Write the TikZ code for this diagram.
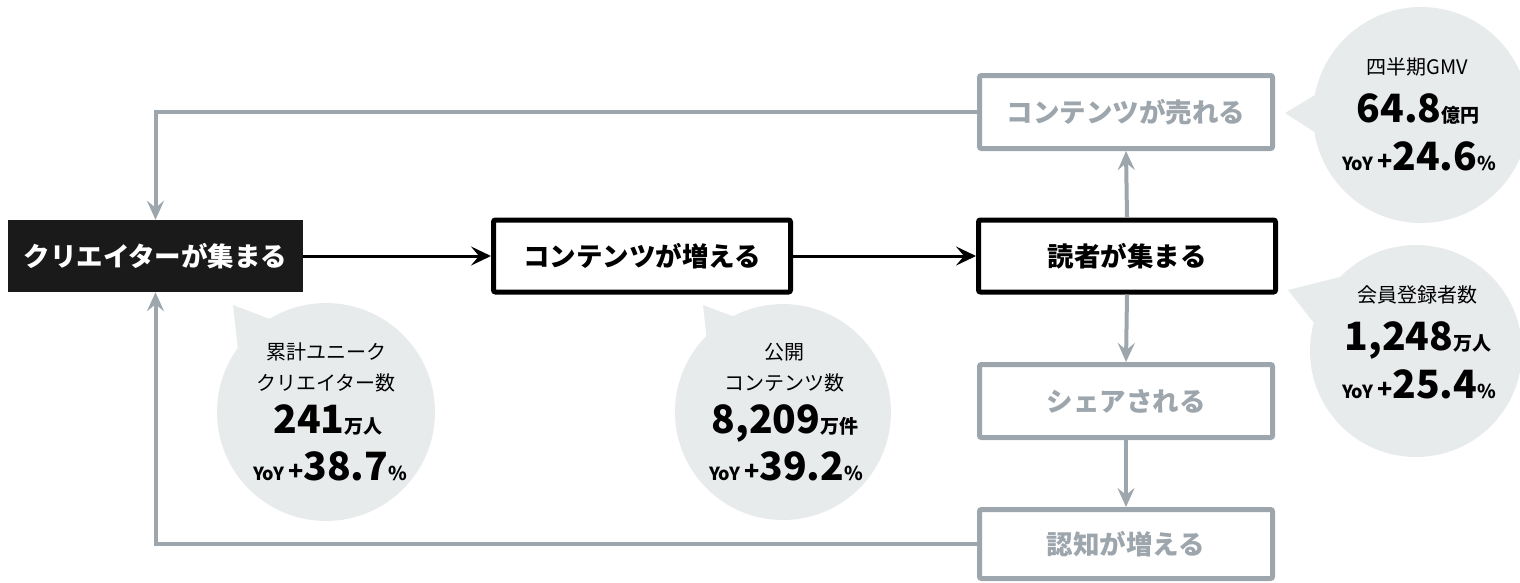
\documentclass[tikz,border=0pt]{standalone}
\usepackage{fontspec}
\setmainfont{Noto Sans CJK JP}
\usetikzlibrary{arrows.meta}
\definecolor{grayc}{HTML}{9DA6AC}
\definecolor{bubc}{HTML}{E8EBEC}
\definecolor{blkc}{HTML}{1A1A1A}
\newcommand\bublbl{\fontsize{20}{24}\selectfont\mdseries}
\newcommand\bubnum{\fontsize{39}{40}\selectfont\bfseries}
\newcommand\bubunit{\fontsize{19}{20}\selectfont\bfseries}
\newcommand\bubyoy{\fontsize{18}{20}\selectfont\bfseries}
\newcommand\bubplus{\fontsize{25}{24}\selectfont\bfseries}
\tikzset{
  boxtext/.style={font=\fontsize{26.5}{30}\selectfont\bfseries, inner sep=0pt, align=center},
  darkbox/.style={boxtext, fill=blkc, text=white, minimum width=295pt, minimum height=72pt},
  blackbox/.style={boxtext, draw=black, line width=5pt, rounded corners=2pt, fill=white, text=black, minimum width=297pt, minimum height=72pt},
  graybox/.style={boxtext, draw=grayc, line width=5pt, rounded corners=2pt, fill=white, text=grayc, minimum width=293pt, minimum height=73pt},
  blackarrow/.style={draw=black, line width=3pt, -{Stealth[length=20pt,width=19pt,inset=8pt]}},
  grayarrow/.style={draw=grayc, line width=4pt, -{Stealth[length=19pt,width=17pt,inset=7pt]}},
  bubble/.style={fill=bubc, draw=none},
  bubtxt/.style={anchor=base, inner sep=0pt},
}
\begin{document}
\begin{tikzpicture}[x=1pt,y=-1pt]
\useasboundingbox (0,0) rectangle (1520,582);

% bubbles
\fill[bubble] (326,412) circle (109);
\fill[bubble] (233,305) -- (240,368) -- (291,327) -- cycle;
\fill[bubble] (783,412) circle (108);
\fill[bubble] (703,305) -- (710,368) -- (761,327) -- cycle;
\fill[bubble] (1421,115) circle (108);
\fill[bubble] (1285,113) -- (1330,86) -- (1330,142) -- cycle;
\fill[bubble] (1416,351) circle (106);
\fill[bubble] (1288,290) -- (1352,274) -- (1325,337) -- cycle;

% boxes
\node[darkbox] (creator) at (155.5,256) {クリエイターが集まる};
\node[blackbox] (content) at (642,256) {コンテンツが増える};
\node[blackbox] (reader) at (1127,256) {読者が集まる};
\node[graybox] (sold) at (1126,112) {コンテンツが売れる};
\node[graybox] (share) at (1126,401) {シェアされる};
\node[graybox, minimum height=69pt] (aware) at (1126,544) {認知が増える};

% connectors
\draw[blackarrow] (creator.east) -- (content.west);
\draw[blackarrow] (content.east) -- (reader.west);
\draw[grayarrow] (reader.north) -- (sold.south);
\draw[grayarrow] (reader.south) -- (share.north);
\draw[grayarrow] (share.south) -- (aware.north);
\draw[grayarrow] (sold.west) -| (creator.north);
\draw[grayarrow] (aware.west) -| (creator.south);

% bubble 1
\node[bubtxt] (b1a) at (326,359) {\bublbl 累計ユニーク};
\node[bubtxt] (b1b) at (326,390) {\bublbl クリエイター数};
\node[bubtxt] (b1c) at (328,433) {{\bubnum 241}{\bubunit 万人}};
\node[bubtxt] (b1d) at (330,480) {{\bubyoy YoY}\hspace{4pt}{\bubplus +}{\bubnum 38.7}{\bubunit\%}};
% bubble 2
\node[bubtxt] (b2a) at (784,359) {\bublbl 公開};
\node[bubtxt] (b2b) at (784,390) {\bublbl コンテンツ数};
\node[bubtxt] (b2c) at (785,433) {{\bubnum 8,209}{\bubunit 万件}};
\node[bubtxt] (b2d) at (786,480) {{\bubyoy YoY}\hspace{4pt}{\bubplus +}{\bubnum 39.2}{\bubunit\%}};
% bubble 3
\node[bubtxt] (b3a) at (1417,74) {\bublbl 四半期GMV};
\node[bubtxt] (b3b) at (1418,122) {{\bubnum 64.8}{\bubunit 億円}};
\node[bubtxt] (b3c) at (1419,170) {{\bubyoy YoY}\hspace{4pt}{\bubplus +}{\bubnum 24.6}{\bubunit\%}};
% bubble 4
\node[bubtxt] (b4a) at (1417,302) {\bublbl 会員登録者数};
\node[bubtxt] (b4b) at (1418,350) {{\bubnum 1,248}{\bubunit 万人}};
\node[bubtxt] (b4c) at (1419,398) {{\bubyoy YoY}\hspace{4pt}{\bubplus +}{\bubnum 25.4}{\bubunit\%}};
\end{tikzpicture}
\end{document}
